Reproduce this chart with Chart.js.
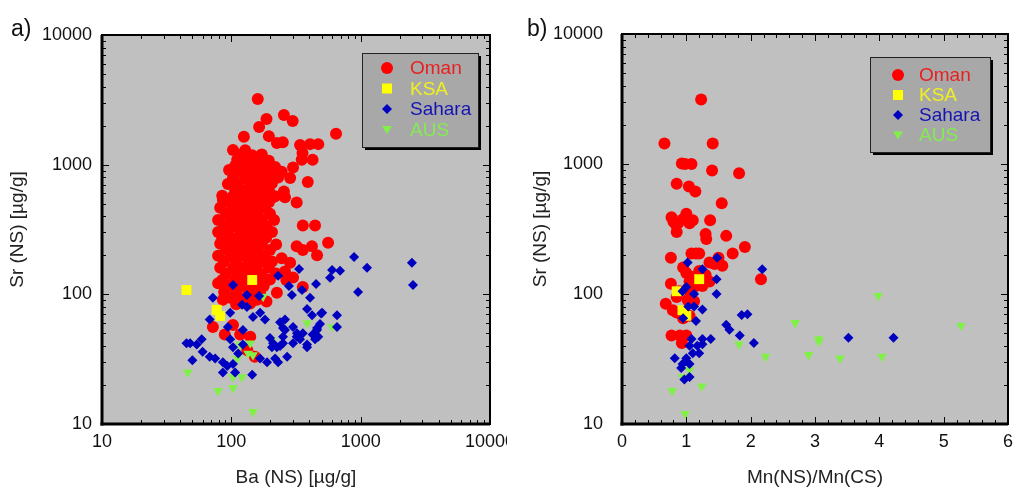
<!DOCTYPE html>
<html>
<head>
<meta charset="utf-8">
<script src="https://cdn.jsdelivr.net/npm/chart.js@4"></script>
<style>
  body { margin: 0; background: #fff; }
  #wrap { position: relative; width: 1015px; height: 493px; overflow: hidden; }
  canvas { position: absolute; top: 0; }
  #chartA { left: 0; }
  #chartB { left: 507px; }
</style>
</head>
<body>
<div id="wrap">
  <canvas id="chartA" width="507" height="493"></canvas>
  <canvas id="chartB" width="508" height="493"></canvas>
</div>
<script>
// series names, legend order
var seriesNames = ['Oman', 'KSA', 'Sahara', 'AUS'];

// panel a) : Ba (NS) vs Sr (NS), both in µg/g
var omanA = [
  [160,3210],[187,2250],[164,1950],[255,2420],[298,2170],[125,1640],[195,1660],[225,1470],[250,1490],
  [340,1420],[406,1440],[470,1440],[355,1230],[350,1090],[425,1090],[645,1730],[96,910],[390,735],
  [300,950],[285,790],[255,620],[210,560],[260,560],[320,510],[86,535],[357,340],[444,340],[560,250],
  [320,235],[357,220],[420,235],[460,200],[245,190],[285,175],[260,150],[79,122],[72,56],[89,49],
  [103,58],[117,49],[140,47],[152,33],[133,37],[158,91],[187,88],[225,103],[86,91],[266,129],[300,135],[357,114],
  [103,1300],[128,1290],
  [117,1190],[145,1180],[172,1200],
  [111,1090],[136,1080],[160,1100],[195,1070],
  [107,980],[126,970],[152,985],[182,975],[218,960],
  [117,880],[140,870],[167,890],[199,875],[245,880],
  [103,790],[128,785],[152,800],[182,780],[230,795],
  [94,710],[113,705],[140,715],[167,700],[206,720],
  [107,640],[128,630],[152,645],[195,635],
  [85,575],[103,570],[121,580],[145,565],[172,575],[218,570],
  [94,515],[113,520],[136,510],[160,518],[195,512],
  [82,465],[103,460],[126,468],[152,462],[182,466],
  [91,418],[109,412],[130,420],[160,415],[199,418],
  [79,375],[98,372],[117,378],[140,370],[172,376],[214,374],
  [88,338],[107,335],[128,340],[152,333],[186,337],
  [79,303],[94,300],[117,306],[140,301],[167,304],[206,302],
  [85,272],[105,270],[126,275],[156,268],[186,273],
  [82,246],[98,243],[117,248],[140,244],[172,246],[222,242],
  [91,221],[109,218],[130,223],[160,219],[199,220],
  [79,198],[98,196],[121,200],[145,197],[178,199],
  [88,178],[109,176],[136,180],[167,177],[206,179],
  [82,160],[103,158],[126,162],[156,159],[195,161],
  [91,144],[113,142],[140,146],[172,143],[222,145],
  [85,129],[105,128],[130,131],[160,127],[199,130],
  [94,116],[117,115],[145,118],[178,116],
  [88,104],[109,103],[136,106],[167,104],
  [98,94],[121,93],[148,95],
  [109,84],[140,85]
];
var ksaA = [[45,108],[145,129],[77,76],[82,68]];
var saharaA = [
  [889,194],[1120,160],[955,104],[2490,175],[2540,118],[601,154],[693,152],[580,134],[452,120],[334,157],
  [279,116],[230,139],[294,99],[352,108],[406,94],[385,77],[421,69],[494,71],[656,69],[656,56],
  [485,59],[460,53],[470,47],[444,45],[385,39],[322,50],[340,45],[300,42],[260,64],[260,53],
  [251,47],[270,33],[210,42],[206,39],[225,39],[218,32],[189,30],[167,32],[199,46],[182,64],
  [167,72],[147,67],[132,80],[121,83],[132,99],[164,97],[103,118],[98,72],[72,94],[68,64],
  [94,56],[123,53],[98,45],[103,39],[113,35],[123,41],[145,24],[107,25],[103,29],[93,28],
  [86,25],[86,30],[75,32],[68,33],[60,36],[59,45],[54,41],[48,42],[45,42],[50,31],
  [251,55],[300,56],[238,61],[357,50],[425,49],[460,55],[320,47],[385,41],[230,30],[504,72],
  [238,40],[251,42]
];
var ausA = [
  [46,25],[79,18],[103,19],[103,23],[147,12.4],[147,34],[135,35],[140,42],[117,41],[111,32],
  [176,96],[206,44],[385,60],[600,56],[121,23]
];

// panel b) : Mn(NS)/Mn(CS) vs Sr (NS)
var omanB = [
  [1.23,3130],[0.66,1435],[1.41,1435],[0.93,1010],[0.98,1000],[1.08,1000],[1.40,890],[1.82,850],
  [0.85,706],[1.04,670],[1.14,615],[1.55,500],[0.77,390],[0.80,360],[0.84,340],[0.87,350],[0.85,300],
  [0.94,375],[1.0,415],[1.1,370],[1.05,350],[1.37,370],[1.3,290],[1.31,265],[1.62,280],[1.91,230],
  [1.72,205],[0.76,190],[1.08,205],[1.15,205],[1.2,205],[1.36,175],[1.44,170],[1.56,165],[1.5,190],
  [0.95,160],[1.0,145],[1.1,135],[1.05,125],[1.25,115],[1.36,125],[2.16,130],[0.76,120],[0.89,105],
  [1.02,110],[1.07,100],[1.02,90],[1.15,115],[1.2,150],[0.68,84],[0.79,75],[0.85,72],[0.95,65],
  [1.05,68],[0.77,48],[0.9,48],[1.0,48],[0.93,42],[0.85,95],[1.12,88],[1.3,140]
];
var ksaB = [[0.85,105],[1.2,130],[0.94,75],[1.0,68]];
var saharaB = [
  [1.02,175],[1.25,155],[1.48,190],[1.47,130],[1.47,100],[2.18,155],[1.0,113],[0.94,105],[1.12,100],
  [1.03,80],[1.12,80],[1.25,76],[1.15,62],[0.95,65],[1.62,58],[1.67,53],[1.86,69],[1.95,70],[1.83,48],
  [2.05,42],[1.08,45],[1.25,45],[1.38,45],[1.17,40],[1.25,41],[1.05,40],[0.82,32],[0.94,29],[1.0,32],
  [1.05,29],[0.92,27],[1.05,23],[0.97,22],[1.1,35],[1.2,35],[3.52,46],[4.22,46]
];
var ausB = [
  [0.78,18],[0.98,12],[1.24,19.5],[0.94,23],[1.05,26],[1.82,41],[2.23,33],[2.69,60],[2.9,34],
  [3.06,45],[3.06,43],[3.39,32],[3.98,97],[4.04,33],[5.27,57]
];

// tick labels
var logTicks = [10, 100, 1000, 10000];
var mnTicks = [0, 1, 2, 3, 4, 5, 6];

var colors = ['#ff0000', '#ffff00', '#0000c0', '#80f048'];
var textColors = ['#e82020', '#f0f020', '#1414b4', '#84ec50'];

function toPts(arr) {
  return arr.map(function (p) { return { x: p[0], y: p[1] }; });
}

function makeDatasets(oman, ksa, sahara, aus) {
  return [
    { label: seriesNames[0], data: toPts(oman), pointStyle: 'circle', pointRadius: 6, order: 4 },
    { label: seriesNames[1], data: toPts(ksa), pointStyle: 'rect', pointRadius: 7, order: 3 },
    { label: seriesNames[2], data: toPts(sahara), pointStyle: 'rectRot', pointRadius: 5, order: 1 },
    { label: seriesNames[3], data: toPts(aus), pointStyle: 'triangle', pointRadius: 5.6, pointRotation: 180, order: 2 }
  ].map(function (d, i) {
    d.backgroundColor = colors[i];
    d.borderWidth = 0;
    d.pointBorderWidth = 0;
    d.pointHoverRadius = d.pointRadius;
    return d;
  });
}

// minor ticks inside the frame
function logMinor() {
  var out = [];
  [10, 100, 1000].forEach(function (d) {
    for (var k = 2; k <= 9; k++) out.push(k * d);
  });
  return out;
}
function linMinor() {
  var out = [];
  for (var i = 0; i < 30; i++) { if (i % 5) out.push(i / 5); }
  return out;
}

function marker(ctx, style, x, y, r) {
  ctx.beginPath();
  if (style === 'circle') {
    ctx.arc(x, y, r, 0, Math.PI * 2);
  } else if (style === 'rect') {
    ctx.rect(x - r, y - r, 2 * r, 2 * r);
  } else if (style === 'rectRot') {
    ctx.moveTo(x, y - r); ctx.lineTo(x + r, y); ctx.lineTo(x, y + r); ctx.lineTo(x - r, y);
  } else {
    ctx.moveTo(x - r, y - r * 0.7); ctx.lineTo(x + r, y - r * 0.7); ctx.lineTo(x, y + r * 0.9);
  }
  ctx.closePath();
  ctx.fill();
}

var panelDeco = {
  id: 'panelDeco',
  beforeDraw: function (chart) {
    var a = chart.chartArea, ctx = chart.ctx;
    ctx.save();
    ctx.fillStyle = '#c0c0c0';
    ctx.fillRect(a.left, a.top, a.right - a.left, a.bottom - a.top);
    ctx.restore();
  },
  afterDatasetsDraw: function (chart, args, opts) {
    var a = chart.chartArea, ctx = chart.ctx;
    var xs = chart.scales.x, ys = chart.scales.y;
    ctx.save();
    ctx.strokeStyle = '#000';
    ctx.lineWidth = 1;
    function seg(x1, y1, x2, y2) { ctx.beginPath(); ctx.moveTo(x1, y1); ctx.lineTo(x2, y2); ctx.stroke(); }
    function yTick(v, len) {
      var p = Math.round(ys.getPixelForValue(v)) + 0.5;
      seg(a.left, p, a.left + len, p);
      seg(a.right, p, a.right - len, p);
    }
    function xTick(v, len) {
      var p = Math.round(xs.getPixelForValue(v)) + 0.5;
      seg(p, a.bottom, p, a.bottom - len);
      seg(p, a.top, p, a.top + len);
    }
    logTicks.forEach(function (v) { yTick(v, 7); });
    logMinor().forEach(function (v) { yTick(v, 4); });
    if (opts.xLog) {
      logTicks.forEach(function (v) { xTick(v, 7); });
      logMinor().forEach(function (v) { xTick(v, 4); });
    } else {
      mnTicks.forEach(function (v) { xTick(v, 7); });
      linMinor().forEach(function (v) { xTick(v, 4); });
    }
    // frame
    ctx.lineWidth = 2;
    ctx.strokeRect(a.left, a.top, a.right - a.left, a.bottom - a.top);
    ctx.lineWidth = 3;
    seg(a.left, a.top, a.left, a.bottom + 1.5);
    seg(a.left - 1.5, a.bottom, a.right, a.bottom);
    ctx.restore();
  },
  afterDraw: function (chart, args, opts) {
    var ctx = chart.ctx, lg = opts.legend;
    ctx.save();
    // legend box with shadow
    ctx.fillStyle = '#000';
    ctx.fillRect(lg.x + 3, lg.y + 3, lg.w, lg.h);
    ctx.fillStyle = '#a8a8a8';
    ctx.fillRect(lg.x, lg.y, lg.w, lg.h);
    ctx.strokeStyle = '#222';
    ctx.lineWidth = 1;
    ctx.strokeRect(lg.x + 0.5, lg.y + 0.5, lg.w, lg.h);
    ctx.font = '19px "Liberation Sans", Arial, sans-serif';
    ctx.textBaseline = 'middle';
    ctx.textAlign = 'left';
    chart.data.datasets.forEach(function (ds, i) {
      var y = lg.y + lg.row0 + i * lg.gap;
      ctx.fillStyle = ds.backgroundColor;
      var r = ds.pointStyle === 'circle' ? 6 : 5;
      marker(ctx, ds.pointStyle, lg.x + lg.markX, y, r);
      ctx.fillStyle = textColors[i];
      ctx.fillText(ds.label, lg.x + lg.textX, y + 1);
    });
    // panel letter
    ctx.fillStyle = '#111';
    ctx.font = '23px "Liberation Sans", Arial, sans-serif';
    ctx.textBaseline = 'alphabetic';
    ctx.fillText(opts.letter, opts.letterX, 36);
    ctx.restore();
  }
};

var tickFont = { family: '"Liberation Sans", Arial, sans-serif', size: 18 };
var titleFont = { family: '"Liberation Sans", Arial, sans-serif', size: 19 };

function makeChart(id, datasets, xAxis, cfg) {
  return new Chart(document.getElementById(id), {
    type: 'scatter',
    data: { datasets: datasets },
    options: {
      responsive: false,
      animation: false,
      layout: { padding: { left: 0, top: cfg.top, right: cfg.right, bottom: 0 } },
      plugins: {
        legend: { display: false },
        tooltip: { enabled: false },
        panelDeco: cfg.deco
      },
      scales: {
        x: Object.assign({
          position: 'bottom',
          grid: { display: false, drawTicks: false },
          border: { display: false },
          title: { display: true, text: cfg.xTitle, color: '#222', font: titleFont, padding: { top: 0, bottom: 4 } },
          afterFit: function (s) { s.height = 69; s.paddingLeft = 0; s.paddingRight = 0; }
        }, xAxis),
        y: {
          type: 'logarithmic',
          min: 10,
          max: 10000,
          grid: { display: false, drawTicks: false },
          border: { display: false },
          afterBuildTicks: function (s) { s.ticks = logTicks.map(function (v) { return { value: v }; }); },
          ticks: { color: '#111', font: tickFont, padding: cfg.yPad, autoSkip: false,
                   callback: function (v) { return String(v); } },
          title: { display: true, text: 'Sr (NS) [µg/g]', color: '#222', font: titleFont, padding: { top: cfg.yTitlePad, bottom: 0 } },
          afterFit: function (s) { s.width = cfg.yWidth; s.paddingTop = 0; s.paddingBottom = 0; }
        }
      }
    },
    plugins: [panelDeco]
  });
}

makeChart('chartA', makeDatasets(omanA, ksaA, saharaA, ausA), {
  type: 'logarithmic', min: 10, max: 10000,
  afterBuildTicks: function (s) { s.ticks = logTicks.map(function (v) { return { value: v }; }); },
  ticks: { color: '#111', font: tickFont, padding: 7, maxRotation: 0, autoSkip: false,
           callback: function (v) { return String(v); } }
}, {
  top: 35, right: 17, yWidth: 102, yPad: 10, yTitlePad: 6,
  xTitle: 'Ba (NS) [µg/g]',
  deco: { xLog: true, letter: 'a)', letterX: 11,
          legend: { x: 362, y: 53, w: 116, h: 94, markX: 25, textX: 48, row0: 15, gap: 20.5 } }
});

makeChart('chartB', makeDatasets(omanB, ksaB, saharaB, ausB), {
  type: 'linear', min: 0, max: 6,
  afterBuildTicks: function (s) { s.ticks = mnTicks.map(function (v) { return { value: v }; }); },
  ticks: { color: '#111', font: tickFont, padding: 7, maxRotation: 0, autoSkip: false,
           callback: function (v) { return String(v); } }
}, {
  top: 34, right: 5, yWidth: 115, yPad: 19, yTitlePad: 22,
  xTitle: 'Mn(NS)/Mn(CS)',
  deco: { xLog: false, letter: 'b)', letterX: 20,
          legend: { x: 363, y: 57, w: 120, h: 95, markX: 28, textX: 49, row0: 18, gap: 20 } }
});
</script>
</body>
</html>
